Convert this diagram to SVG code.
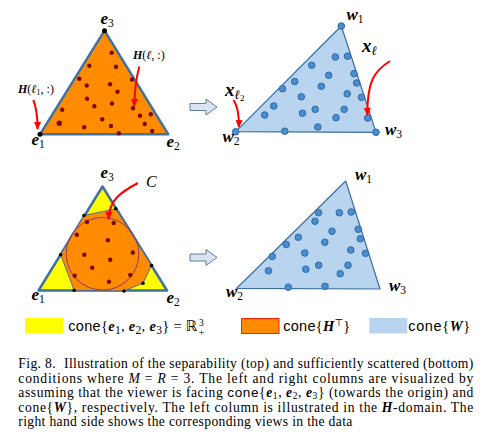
<svg xmlns="http://www.w3.org/2000/svg" width="483" height="441" viewBox="0 0 483 441">
<defs>
<marker id="ah" markerWidth="9" markerHeight="8" refX="7" refY="4" orient="auto" markerUnits="userSpaceOnUse">
<path d="M0,0.5 L8,4 L0,7.5 Z" fill="#ff0000"/>
</marker>
<style>
.tri-o{fill:#ff8c00;stroke:#3f72a3;stroke-width:2.5;stroke-linejoin:round}
.tri-y{fill:#ffff00;stroke:#3f72a3;stroke-width:2.5;stroke-linejoin:round}
.hull{fill:#ff8c00;stroke:#4d6e8e;stroke-width:1}
.tri-b{fill:#b9d4ee;stroke:#3d6e9e;stroke-width:1.2;stroke-linejoin:round}
.dr{fill:#7a0a0a}
.bk{fill:#000}
.bd{fill:#4a8dd1;stroke:#2f6aa6;stroke-width:1}
.arr{fill:none;stroke:#ff0000;stroke-width:2;marker-end:url(#ah)}
.blk{fill:#dbe3ee;stroke:#5b7fa6;stroke-width:1}
text{font-family:"Liberation Serif","DejaVu Serif",serif;fill:#000}
.m{font-weight:bold;font-style:italic}
.i{font-style:italic}
.sf{font-family:"Liberation Sans","DejaVu Sans",sans-serif}
.lbl{font-size:17px}
.sub{font-size:11.5px;font-weight:normal;font-style:normal}
.cap{font-size:13.6px}
.leg{font-size:14.5px}
</style>
</defs>

<g id="top-left">
<polygon class="tri-o" points="104.5,30.7 40,134.3 168.3,134.3"/>
<g>
<circle class="dr" cx="111.7" cy="52.7" r="2.2"/>
<circle class="dr" cx="89.3" cy="65.7" r="2.2"/>
<circle class="dr" cx="116" cy="66.7" r="2.2"/>
<circle class="dr" cx="79.3" cy="78.7" r="2.2"/>
<circle class="dr" cx="86.7" cy="85.5" r="2.2"/>
<circle class="dr" cx="110" cy="84.3" r="2.2"/>
<circle class="dr" cx="117.5" cy="91.7" r="2.2"/>
<circle class="dr" cx="132" cy="79.5" r="2.2"/>
<circle class="dr" cx="87" cy="98.7" r="2.2"/>
<circle class="dr" cx="112" cy="103.5" r="2.2"/>
<circle class="dr" cx="94.3" cy="106.2" r="2.2"/>
<circle class="dr" cx="62.2" cy="109.7" r="2.2"/>
<circle class="dr" cx="133" cy="108.3" r="2.2"/>
<circle class="dr" cx="59.3" cy="123.3" r="2.7"/>
<circle class="dr" cx="102.2" cy="119.3" r="2.2"/>
<circle class="dr" cx="140" cy="115.8" r="2.2"/>
<circle class="dr" cx="150.8" cy="114.3" r="2.2"/>
<circle class="dr" cx="84.2" cy="127.2" r="2.2"/>
<circle class="dr" cx="111" cy="126" r="2.2"/>
<circle class="dr" cx="144.7" cy="124" r="2.2"/>
<circle class="dr" cx="152.2" cy="131" r="2.2"/>
<circle class="dr" cx="118.8" cy="133.3" r="2.2"/>
</g>
<circle class="bk" cx="104.5" cy="30.7" r="2.5"/>
<circle class="bk" cx="40" cy="134.3" r="2.5"/>
<text class="lbl m" x="100.5" y="24">e<tspan class="sub" dy="3">3</tspan></text>
<text class="lbl m" x="31.5" y="145">e<tspan class="sub" dy="3">1</tspan></text>
<text class="lbl m" x="166.5" y="147">e<tspan class="sub" dy="3">2</tspan></text>
<text x="133" y="59" font-size="12"><tspan class="m">H</tspan>(<tspan class="i">ℓ</tspan>, :)</text>
<text x="18" y="93" font-size="12"><tspan class="m">H</tspan>(<tspan class="i">ℓ</tspan><tspan font-size="8.5" dy="2">1</tspan><tspan dy="-2">, :)</tspan></text>
</g>

<g id="top-right">
<polygon class="tri-b" points="341.3,26 235.7,131.7 376,132.3"/>
<circle class="bd" cx="341.3" cy="26" r="3.3"/>
<circle class="bd" cx="235.7" cy="131.7" r="3.3"/>
<circle class="bd" cx="376" cy="132.3" r="3.3"/>
<circle class="bd" cx="335.3" cy="57" r="3.3"/>
<circle class="bd" cx="347.5" cy="56.2" r="3.3"/>
<circle class="bd" cx="311.7" cy="65.2" r="3.3"/>
<circle class="bd" cx="328.7" cy="75.3" r="3.3"/>
<circle class="bd" cx="354" cy="73.7" r="3.3"/>
<circle class="bd" cx="294.7" cy="81.5" r="3.3"/>
<circle class="bd" cx="282.5" cy="88.7" r="3.3"/>
<circle class="bd" cx="321.3" cy="86.3" r="3.3"/>
<circle class="bd" cx="356.7" cy="83" r="3.3"/>
<circle class="bd" cx="301.3" cy="96.8" r="3.3"/>
<circle class="bd" cx="347.2" cy="93.8" r="3.3"/>
<circle class="bd" cx="361.5" cy="97.3" r="3.3"/>
<circle class="bd" cx="273.8" cy="106" r="3.3"/>
<circle class="bd" cx="315.2" cy="109.3" r="3.3"/>
<circle class="bd" cx="344.2" cy="109.3" r="3.3"/>
<circle class="bd" cx="264.7" cy="115" r="3.3"/>
<circle class="bd" cx="302.5" cy="113.2" r="3.3"/>
<circle class="bd" cx="336" cy="117.7" r="3.3"/>
<circle class="bd" cx="367.7" cy="118" r="3.3"/>
<circle class="bd" cx="317.8" cy="127" r="3.3"/>
<circle class="bd" cx="284.8" cy="131.2" r="3.3"/>
<text class="lbl m" x="346.5" y="20">w<tspan class="sub" dy="3">1</tspan></text>
<text class="lbl m" x="222.5" y="142">w<tspan class="sub" dy="3">2</tspan></text>
<text class="lbl m" x="385" y="135">w<tspan class="sub" dy="3">3</tspan></text>
<text class="m" x="362" y="52" font-size="19">x<tspan class="i" font-size="13" font-weight="normal" dy="3">ℓ</tspan></text>
<text class="m" x="225" y="96" font-size="19">x<tspan class="i" font-size="13" font-weight="normal" dy="3">ℓ</tspan><tspan font-size="9" font-weight="normal" font-style="normal" dy="2">2</tspan></text>
</g>

<g id="bottom-left">
<polygon class="tri-y" points="102.5,186.5 38.5,290.5 167,290.5"/>
<polygon class="hull" points="84,215.5 115.7,208.8 151.5,265.5 143,283.2 124,291 74.2,290.3 60.7,254.7"/>
<circle cx="102.5" cy="253.8" r="36.3" fill="none" stroke="#8e3a5e" stroke-width="1"/>
<circle class="bk" cx="84" cy="215.5" r="1.8"/>
<circle class="bk" cx="115.7" cy="208.8" r="1.8"/>
<circle class="bk" cx="151.5" cy="265.5" r="1.8"/>
<circle class="bk" cx="143" cy="283.2" r="1.8"/>
<circle class="bk" cx="124" cy="291" r="1.8"/>
<circle class="bk" cx="74.2" cy="290.3" r="1.8"/>
<circle class="bk" cx="60.7" cy="254.7" r="1.8"/>
<circle class="dr" cx="87" cy="222" r="2.2"/>
<circle class="dr" cx="113.7" cy="223" r="2.2"/>
<circle class="dr" cx="76.8" cy="234.8" r="2.2"/>
<circle class="dr" cx="107.8" cy="240.3" r="2.2"/>
<circle class="dr" cx="84.3" cy="254.7" r="2.2"/>
<circle class="dr" cx="132.8" cy="252.5" r="2.2"/>
<circle class="dr" cx="110.2" cy="259.7" r="2.2"/>
<circle class="dr" cx="92.2" cy="267.8" r="2.2"/>
<circle class="dr" cx="74.7" cy="275.7" r="2.2"/>
<circle class="dr" cx="130.3" cy="275" r="2.2"/>
<circle class="dr" cx="109" cy="281.8" r="2.2"/>
<text class="lbl m" x="100.5" y="178">e<tspan class="sub" dy="3">3</tspan></text>
<text class="lbl m" x="31.5" y="300">e<tspan class="sub" dy="3">1</tspan></text>
<text class="lbl m" x="166.5" y="303">e<tspan class="sub" dy="3">2</tspan></text>
<text class="i" x="146" y="187" font-size="16">C</text>
</g>

<g id="bottom-right">
<polygon class="tri-b" points="345.7,181 236.7,288.3 380,289"/>
<circle class="bd" cx="318.5" cy="212.7" r="3.3"/>
<circle class="bd" cx="339.3" cy="212.8" r="3.3"/>
<circle class="bd" cx="351.2" cy="212" r="3.3"/>
<circle class="bd" cx="315" cy="221.2" r="3.3"/>
<circle class="bd" cx="332" cy="231.2" r="3.3"/>
<circle class="bd" cx="358.2" cy="229.3" r="3.3"/>
<circle class="bd" cx="298.3" cy="237.3" r="3.3"/>
<circle class="bd" cx="360.3" cy="238.8" r="3.3"/>
<circle class="bd" cx="286.2" cy="244.5" r="3.3"/>
<circle class="bd" cx="324.8" cy="242.2" r="3.3"/>
<circle class="bd" cx="304.8" cy="253" r="3.3"/>
<circle class="bd" cx="350.8" cy="250" r="3.3"/>
<circle class="bd" cx="365.5" cy="253.3" r="3.3"/>
<circle class="bd" cx="272.3" cy="256.5" r="3.3"/>
<circle class="bd" cx="318.7" cy="265.2" r="3.3"/>
<circle class="bd" cx="348" cy="265.2" r="3.3"/>
<circle class="bd" cx="268.5" cy="270.8" r="3.3"/>
<circle class="bd" cx="305.8" cy="269.2" r="3.3"/>
<circle class="bd" cx="340.2" cy="273.7" r="3.3"/>
<circle class="bd" cx="288.3" cy="287.2" r="3.3"/>
<circle class="bd" cx="325" cy="286.3" r="3.3"/>
<text class="lbl m" x="355" y="180">w<tspan class="sub" dy="3">1</tspan></text>
<text class="lbl m" x="226" y="297">w<tspan class="sub" dy="3">2</tspan></text>
<text class="lbl m" x="389" y="291">w<tspan class="sub" dy="3">3</tspan></text>
</g>

<g id="connectors">
<path class="arr" d="M33.3,100 Q37.5,110 37.6,129"/>
<path class="arr" d="M139.3,66.5 Q135,82 134.2,106"/>
<path class="arr" d="M233.5,100 Q239.5,109 238.8,127"/>
<path class="arr" d="M390,61 C374,71 367,82 367.4,115"/>
<path class="arr" d="M138,183 C121,192 109,200 108.6,219"/>
<path class="blk" d="M190,103.5 H206 V99 L217,107 L206,115 V110.5 H190 Z"/>
<path class="blk" d="M190,254 H206 V249.5 L217,257.5 L206,265.5 V261 H190 Z"/>
</g>

<g id="legend">
<rect x="25" y="318" width="38.3" height="15.5" fill="#ffff00"/>
<text class="leg" x="68.3" y="331" textLength="129" lengthAdjust="spacing"><tspan class="sf">cone</tspan>{<tspan class="m">e</tspan><tspan class="sub" font-size="10" dy="2.5">1</tspan><tspan dy="-2.5">, </tspan><tspan class="m">e</tspan><tspan class="sub" font-size="10" dy="2.5">2</tspan><tspan dy="-2.5">, </tspan><tspan class="m">e</tspan><tspan class="sub" font-size="10" dy="2.5">3</tspan><tspan dy="-2.5">} = </tspan><tspan font-family="DejaVu Sans, sans-serif">ℝ</tspan></text>
<text x="199" y="325.5" font-size="9.5">3</text>
<text x="198.5" y="336" font-size="10.5">+</text>
<rect x="241.5" y="318.5" width="37.5" height="15" fill="#ff8c00" stroke="#ff2000" stroke-width="1"/>
<text class="leg" x="283.3" y="331" textLength="67" lengthAdjust="spacing"><tspan class="sf">cone</tspan>{<tspan class="m">H</tspan><tspan font-size="10" dy="-5" font-family="DejaVu Sans, sans-serif">⊤</tspan><tspan dy="5">}</tspan></text>
<rect x="369.3" y="318" width="38" height="15.5" fill="#b9d4ee"/>
<text class="leg" x="408.3" y="331" textLength="62" lengthAdjust="spacing"><tspan class="sf">cone</tspan>{<tspan class="m">W</tspan>}</text>
</g>

<g id="caption">
<text class="cap" x="18.3" y="368" textLength="455" lengthAdjust="spacing">Fig. 8.<tspan dx="8">Illustration of the separability (top) and sufficiently scattered (bottom)</tspan></text>
<text class="cap" x="18.3" y="382.5" textLength="455" lengthAdjust="spacing">conditions where <tspan class="i">M</tspan> = <tspan class="i">R</tspan> = 3. The left and right columns are visualized by</text>
<text class="cap" x="18.3" y="397" textLength="455" lengthAdjust="spacing">assuming that the viewer is facing <tspan class="sf">cone</tspan>{<tspan class="m">e</tspan><tspan font-size="9.5" dy="2">1</tspan><tspan dy="-2">, </tspan><tspan class="m">e</tspan><tspan font-size="9.5" dy="2">2</tspan><tspan dy="-2">, </tspan><tspan class="m">e</tspan><tspan font-size="9.5" dy="2">3</tspan><tspan dy="-2">} (towards the origin) and</tspan></text>
<text class="cap" x="18.3" y="411.5" textLength="455" lengthAdjust="spacing">cone{<tspan class="m">W</tspan>}, respectively. The left column is illustrated in the <tspan class="m">H</tspan>-domain. The</text>
<text class="cap" x="18.3" y="426" textLength="334" lengthAdjust="spacing">right hand side shows the corresponding views in the data</text>
</g>
</svg>
